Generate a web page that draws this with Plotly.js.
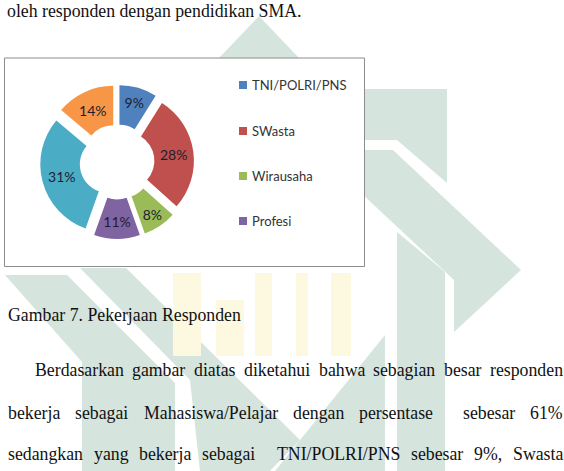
<!DOCTYPE html>
<html><head><meta charset="utf-8">
<script src="https://cdn.plot.ly/plotly-3.0.1.min.js"></script>
<style>html,body{margin:0;padding:0;background:#fff;overflow:hidden}</style>
</head><body><div id="chart" style="width:564px;height:471px"></div>
<script>
// ---- data ----
const categories = ['TNI/POLRI/PNS', 'SWasta', 'Wirausaha', 'Profesi', 'Mahasiswa/Pelajar', 'Lainnya'];
const shares = [9, 28, 8, 11, 31, 14];
const sliceColors = ['#4F81BD', '#C0504D', '#9BBB59', '#8064A2', '#4BACC6', '#F79646'];
const legendCategories = ['TNI/POLRI/PNS', 'SWasta', 'Wirausaha', 'Profesi'];
const textAbove = 'oleh responden dengan pendidikan SMA.';
const captionText = 'Gambar 7. Pekerjaan Responden';
const paragraphLines = [
  'Berdasarkan gambar diatas diketahui bahwa sebagian besar responden',
  'bekerja sebagai Mahasiswa/Pelajar dengan persentase  sebesar 61%',
  'sedangkan yang bekerja sebagai  TNI/POLRI/PNS sebesar 9%, Swasta'
];

// ---- layout helpers ----
const W = 564, H = 471;
const px = x => x / W;
const py = y => 1 - y / H;
const serif = 'Liberation Serif, Times New Roman, serif';
const ctx = document.createElement('canvas').getContext('2d');
function measure(t, size, fam) { ctx.font = size + 'px ' + fam; return ctx.measureText(t).width; }
const bodySize = 16 * 233 / measure(captionText, 16, '"Liberation Serif"');

const annotations = [];
const shapes = [];

// watermark (faint)
const wm = '#d5e4dd';
function poly(pts, color) {
  const d = pts.map((p, i) => (i ? 'L' : 'M') + px(p[0]) + ',' + py(p[1])).join(' ') + ' Z';
  shapes.push({type: 'path', xref: 'paper', yref: 'paper', path: d, fillcolor: color, line: {width: 0}, layer: 'below'});
}
poly([[259,16],[200,78],[318,78]], wm);
poly([[360,89],[447,89],[447,183],[397,140],[360,140]], wm);
poly([[360,150],[393,150],[521,270],[454,332],[454,280],[360,192]], wm);
poly([[397,232],[445,272],[445,471],[397,471]], wm);
poly([[385,335],[385,471],[275,471]], wm);
poly([[5,275],[67,275],[175,383],[175,471],[82,471],[82,362]], wm);
poly([[80,268],[126,268],[300,440],[270,471],[200,471],[190,380]], wm);
const ylw = '#fdf8e0';
poly([[173,273],[201,273],[201,356],[173,356]], ylw);
poly([[216,300],[244,300],[244,356],[216,356]], ylw);
poly([[255,273],[272,273],[272,356],[255,356]], ylw);
poly([[296,273],[308,273],[308,356],[296,356]], ylw);
poly([[331,273],[351,273],[351,356],[331,356]], ylw);

// chart box
shapes.push({type: 'rect', xref: 'paper', yref: 'paper', x0: px(4.5), x1: px(364.5), y0: py(58), y1: py(266.5),
  fillcolor: '#ffffff', line: {color: '#8c8c8c', width: 1}, layer: 'below'});

// legend (first four categories)
const legendRows = [85, 131, 176, 221];
legendCategories.forEach((c, i) => {
  const y = legendRows[i];
  shapes.push({type: 'rect', xref: 'paper', yref: 'paper', x0: px(239), x1: px(247), y0: py(y + 4), y1: py(y - 4),
    fillcolor: sliceColors[categories.indexOf(c)], line: {width: 0}});
  annotations.push({xref: 'paper', yref: 'paper', x: px(250), y: py(y), xanchor: 'left', yanchor: 'middle',
    text: c, showarrow: false, font: {family: 'Lato, Open Sans, sans-serif', size: 13, color: '#333'}});
});

// page text
function addText(t, x, y) {
  annotations.push({xref: 'paper', yref: 'paper', x: px(x), y: py(y), xanchor: 'left', yanchor: 'middle',
    text: t, showarrow: false, font: {family: serif, size: bodySize, color: '#111'}});
}
addText(textAbove, 5, 11);
addText(captionText, 6, 315);
function justified(line, left, right, y) {
  const tokens = line.split(' ');
  const words = tokens.filter(t => t.length);
  const nSpaces = tokens.length - 1;
  const total = words.reduce((s, w) => s + measure(w, bodySize, '"Liberation Serif"'), 0);
  const gap = (right - left - total) / nSpaces;
  let x = left;
  tokens.forEach(t => {
    if (t.length) { addText(t, x, y); x += measure(t, bodySize, '"Liberation Serif"'); }
    x += gap;
  });
}
justified(paragraphLines[0], 33, 561, 370);
justified(paragraphLines[1], 6, 561, 413);
justified(paragraphLines[2], 6, 561, 454);

// pie
const cx = 117, cy = 162, R = 77;
const trace = {
  type: 'pie', labels: categories, values: shares, sort: false, direction: 'clockwise', rotation: 0,
  hole: 0.42, pull: shares.map(() => 0.13),
  marker: {colors: sliceColors, line: {width: 0}},
  text: shares.map(v => v + '%'), textinfo: 'text', textposition: 'inside', insidetextorientation: 'horizontal',
  textfont: {family: 'Lato, Open Sans, sans-serif', size: 14, color: '#1e1e30'},
  domain: {x: [px(cx - R), px(cx + R)], y: [py(cy + R), py(cy - R)]},
  showlegend: false, hoverinfo: 'label+percent'
};

Plotly.newPlot('chart', [trace], {
  width: W, height: H, margin: {l: 0, r: 0, t: 0, b: 0},
  paper_bgcolor: '#ffffff', plot_bgcolor: '#ffffff', showlegend: false,
  shapes: shapes, annotations: annotations
}, {staticPlot: true, displayModeBar: false});
</script></body></html>
